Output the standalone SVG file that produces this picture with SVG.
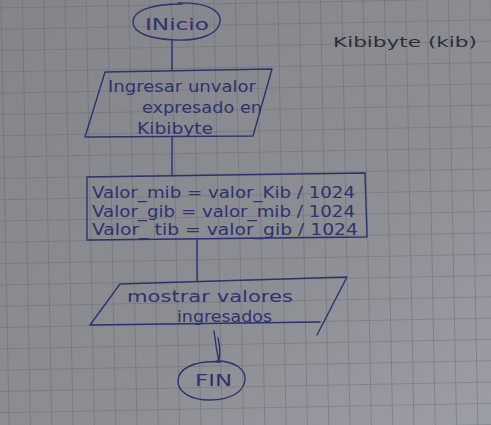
<svg xmlns="http://www.w3.org/2000/svg" width="491" height="425" viewBox="0 0 491 425">
  <style>
    .ink { fill: none; stroke: #2c336e; stroke-width: 1.4; stroke-linecap: round; stroke-linejoin: round; }
    .txt { fill: #2c336e; font-family: "DejaVu Sans", "Liberation Sans", sans-serif; font-size: 15px; }
    .note { fill: #2e2e36; font-family: "DejaVu Sans", "Liberation Sans", sans-serif; font-size: 14px; }
  </style>
  <defs>
    <linearGradient id="paper" x1="0" y1="0" x2="1" y2="1">
      <stop offset="0" stop-color="#84858b"/>
      <stop offset="0.6" stop-color="#8d8e94"/>
      <stop offset="1" stop-color="#9c9ea5"/>
    </linearGradient>
    <pattern id="grid" width="21.3" height="21.3" patternUnits="userSpaceOnUse" patternTransform="rotate(-1.1) translate(0.5 7.5)">
      <path d="M0 0 H21.3 M0 0 V21.3" fill="none" stroke="#606268" stroke-width="1.1"/>
    </pattern>
  </defs>

  <!-- squared paper -->
  <rect width="491" height="425" fill="url(#paper)"/>
  <rect x="-20" y="-20" width="531" height="465" fill="url(#grid)" opacity="0.75"/>

  <!-- connectors -->
  <g id="connectors" class="ink">
    <path d="M172 41 V70"/>
    <path d="M172 137 V176"/>
    <path d="M197 240 V281"/>
    <path d="M214 331 Q216 348 219 362 Q221 350 218 338"/>
  </g>

  <g id="inicio">
    <path class="ink" d="M178 3 C205 2 222 10 220 22 C218 35 198 41 175 40 C150 39 133 33 133 22 C133 11 150 4 182 4"/>
    <text class="txt" x="145" y="30" font-size="17" textLength="64" lengthAdjust="spacingAndGlyphs">INicio</text>
  </g>

  <g id="entrada">
    <path class="ink" d="M105 72 L272 69 L253 136 L85 137 Z"/>
    <text class="txt" x="108" y="92" textLength="148" lengthAdjust="spacingAndGlyphs">Ingresar unvalor</text>
    <text class="txt" x="142" y="113" textLength="120" lengthAdjust="spacingAndGlyphs">expresado en</text>
    <text class="txt" x="137" y="134" textLength="76" lengthAdjust="spacingAndGlyphs">Kibibyte</text>
  </g>

  <g id="proceso">
    <path class="ink" d="M87 177 L365 173 L367 237 L87 240 Z"/>
    <text class="txt" x="92" y="198" textLength="263" lengthAdjust="spacingAndGlyphs">Valor_mib = valor_Kib / 1024</text>
    <text class="txt" x="92" y="217" textLength="263" lengthAdjust="spacingAndGlyphs">Valor_gib = valor_mib / 1024</text>
    <text class="txt" x="92" y="235" textLength="266" lengthAdjust="spacingAndGlyphs">Valor_ tib = valor_gib / 1024</text>
  </g>

  <g id="salida">
    <path class="ink" d="M120 284 L347 277 L317 335 M320 322 L90 325 L120 284"/>
    <text class="txt" x="127" y="302" textLength="166" lengthAdjust="spacingAndGlyphs">mostrar valores</text>
    <text class="txt" x="177" y="322" textLength="95" lengthAdjust="spacingAndGlyphs">ingresados</text>
  </g>

  <g id="fin">
    <path class="ink" d="M216 361 C236 361 246 370 245 380 C244 392 230 400 210 400 C190 400 178 392 178 381 C178 369 194 360 220 362"/>
    <text class="txt" x="195" y="386" font-size="17" textLength="37" lengthAdjust="spacingAndGlyphs">FIN</text>
  </g>

  <g id="titulo">
    <text class="note" x="333" y="47" textLength="144" lengthAdjust="spacingAndGlyphs">Kibibyte (kib)</text>
  </g>
</svg>
